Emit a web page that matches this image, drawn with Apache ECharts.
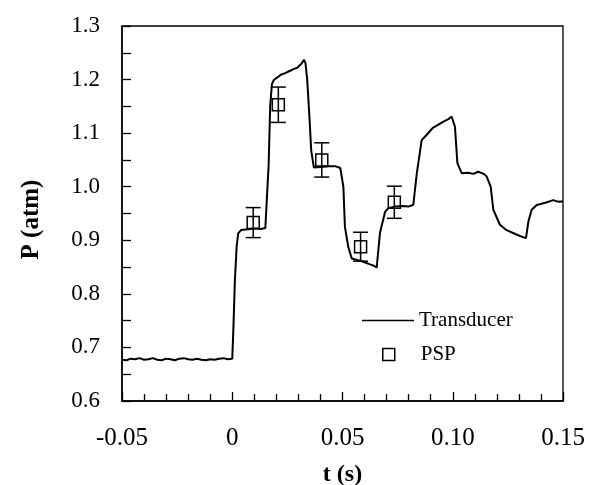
<!DOCTYPE html>
<html>
<head>
<meta charset="utf-8">
<script src="https://cdn.jsdelivr.net/npm/echarts@6/dist/echarts.min.js"></script>
<style>html,body{margin:0;padding:0;background:#fff;}#c{width:590px;height:485px;}</style>
</head>
<body>
<div id="c"></div>
<script>
// Transducer trace (t in s, P in atm)
const transT = [-0.050,-0.048,-0.046,-0.044,-0.042,-0.040,-0.038,-0.036,-0.034,-0.032,-0.030,-0.028,-0.026,-0.024,-0.022,-0.020,-0.018,-0.016,-0.014,-0.012,-0.010,-0.008,-0.006,-0.004,-0.002,0.000,
  0.0005,0.0012,0.0020,0.0027,0.0040,0.0060,0.0080,0.0110,0.0130,0.0150,0.0158,0.0165,0.0172,0.0180,0.0190,0.0205,0.0220,0.0240,0.0260,0.0280,0.0295,0.0310,0.0318,0.0325,0.0332,0.0340,0.0350,0.0358,0.0370,0.0400,0.0440,0.0470,0.0490,
  0.0504,0.0511,0.0526,0.0542,0.0570,0.0594,0.0625,0.0645,0.0655,0.0670,0.0693,0.0708,0.0740,0.0770,0.0800,0.0821,0.0837,0.0859,0.0882,0.0910,0.0935,0.0956,0.0980,0.0995,0.1010,0.1021,0.1041,0.1070,0.1093,0.1116,0.1140,0.1154,0.1172,0.1184,0.1214,0.1240,0.1260,0.1305,0.1332,0.1343,0.1358,0.1381,0.1420,0.1456,0.1470,0.1486,0.1500];
const transP = [0.677,0.676,0.679,0.678,0.680,0.677,0.678,0.680,0.677,0.676,0.679,0.678,0.676,0.679,0.680,0.678,0.677,0.679,0.677,0.676,0.678,0.677,0.679,0.680,0.678,0.679,
  0.733,0.826,0.888,0.913,0.919,0.920,0.921,0.922,0.921,0.923,0.925,1.040,1.150,1.192,1.200,1.204,1.209,1.212,1.216,1.220,1.222,1.228,1.232,1.237,1.231,1.200,1.130,1.068,1.036,1.037,1.038,1.038,1.035,
  1.000,0.925,0.888,0.866,0.863,0.860,0.855,0.852,0.849,0.914,0.953,0.960,0.963,0.964,0.963,0.966,1.025,1.087,1.097,1.110,1.116,1.121,1.126,1.131,1.112,1.044,1.025,1.026,1.024,1.028,1.024,1.019,1.000,0.957,0.929,0.920,0.916,0.908,0.904,0.935,0.957,0.966,0.970,0.975,0.973,0.972,0.973];
// PSP measurements with error bars
const pspT = [0.0095,0.0209,0.0406,0.0582,0.0735];
const pspP = [0.933,1.153,1.050,0.888,0.971];
const pspErr = [0.028,0.033,0.032,0.027,0.030];
// axis ticks
const xMin = -0.05, xMax = 0.15, xStep = 0.05;
const yMin = 0.6, yMax = 1.3, yStep = 0.1;

const serif = 'Liberation Serif';
const lineData = transT.map((t,i)=>[t,transP[i]]);
const pspData = pspT.map((t,i)=>[t,pspP[i],pspErr[i]]);

const chart = echarts.init(document.getElementById('c'), null, {renderer:'canvas'});
chart.setOption({
  animation:false,
  backgroundColor:'#fff',
  grid:{left:122,right:27,top:26,bottom:84,containLabel:false,outerBoundsMode:'none',show:true,borderColor:'#000',borderWidth:1.3,backgroundColor:'transparent'},
  legend:[
    {data:[{name:'Transducer',icon:'rect',itemStyle:{color:'#000',borderWidth:0}}],left:362,top:310,padding:0,itemWidth:52,itemHeight:1.6,orient:'vertical',
     textStyle:{fontFamily:serif,fontSize:21,color:'#000'}},
    {data:[{name:'PSP',icon:'rect',itemStyle:{color:'transparent',borderColor:'#000',borderWidth:1.5}}],left:382,top:344,padding:0,itemWidth:12,itemHeight:12,
     textStyle:{fontFamily:serif,fontSize:21,color:'#000',padding:[0,0,0,21]}}
  ],
  xAxis:{type:'value',min:xMin,max:xMax,interval:xStep,
    axisLine:{show:true,onZero:false,lineStyle:{color:'#000',width:1.5}},
    axisTick:{show:true,inside:true,length:9,lineStyle:{color:'#000',width:1.3}},
    minorTick:{show:true,splitNumber:5,length:7,lineStyle:{color:'#000',width:1.3}},
    splitLine:{show:false},
    axisLabel:{fontFamily:serif,fontSize:25,color:'#000',margin:25,
      formatter:v=>Math.abs(v)<1e-9?'0':v.toFixed(2)},
    name:'t (s)',nameLocation:'middle',nameGap:62,
    nameTextStyle:{fontFamily:serif,fontSize:24,fontWeight:'bold',color:'#000'}},
  yAxis:{type:'value',min:yMin,max:yMax,interval:yStep,
    axisLine:{show:true,onZero:false,lineStyle:{color:'#000',width:1.5}},
    axisTick:{show:true,inside:true,length:9,lineStyle:{color:'#000',width:1.3}},
    minorTick:{show:true,splitNumber:2,length:9,lineStyle:{color:'#000',width:1.3}},
    splitLine:{show:false},
    axisLabel:{fontFamily:serif,fontSize:23,color:'#000',margin:22,
      formatter:v=>v.toFixed(1)},
    name:'P (atm)',nameLocation:'middle',nameGap:78,
    nameTextStyle:{fontFamily:serif,fontSize:25,fontWeight:'bold',color:'#000',padding:[0,12,0,0]}},
  series:[
    {name:'Transducer',type:'line',data:lineData,symbol:'none',smooth:false,
     lineStyle:{color:'#000',width:2},itemStyle:{color:'#000'}},
    {name:'PSP',type:'custom',data:pspData,
     itemStyle:{color:'transparent',borderColor:'#000'},
     renderItem:function(params,api){
       const t=api.value(0),p=api.value(1),e=api.value(2);
       const c=api.coord([t,p]);
       const top=api.coord([t,p+e]);
       const bot=api.coord([t,p-e]);
       const h=6,cap=7.5;
       const st={stroke:'#000',lineWidth:1.5,fill:null};
       return {type:'group',children:[
         {type:'line',shape:{x1:c[0],y1:top[1],x2:c[0],y2:bot[1]},style:st},
         {type:'line',shape:{x1:c[0]-cap,y1:top[1],x2:c[0]+cap,y2:top[1]},style:st},
         {type:'line',shape:{x1:c[0]-cap,y1:bot[1],x2:c[0]+cap,y2:bot[1]},style:st},
         {type:'rect',shape:{x:c[0]-h,y:c[1]-h,width:2*h,height:2*h},style:{stroke:'#000',lineWidth:1.5,fill:'transparent'}}
       ]};
     }}
  ]
});
</script>
</body>
</html>
